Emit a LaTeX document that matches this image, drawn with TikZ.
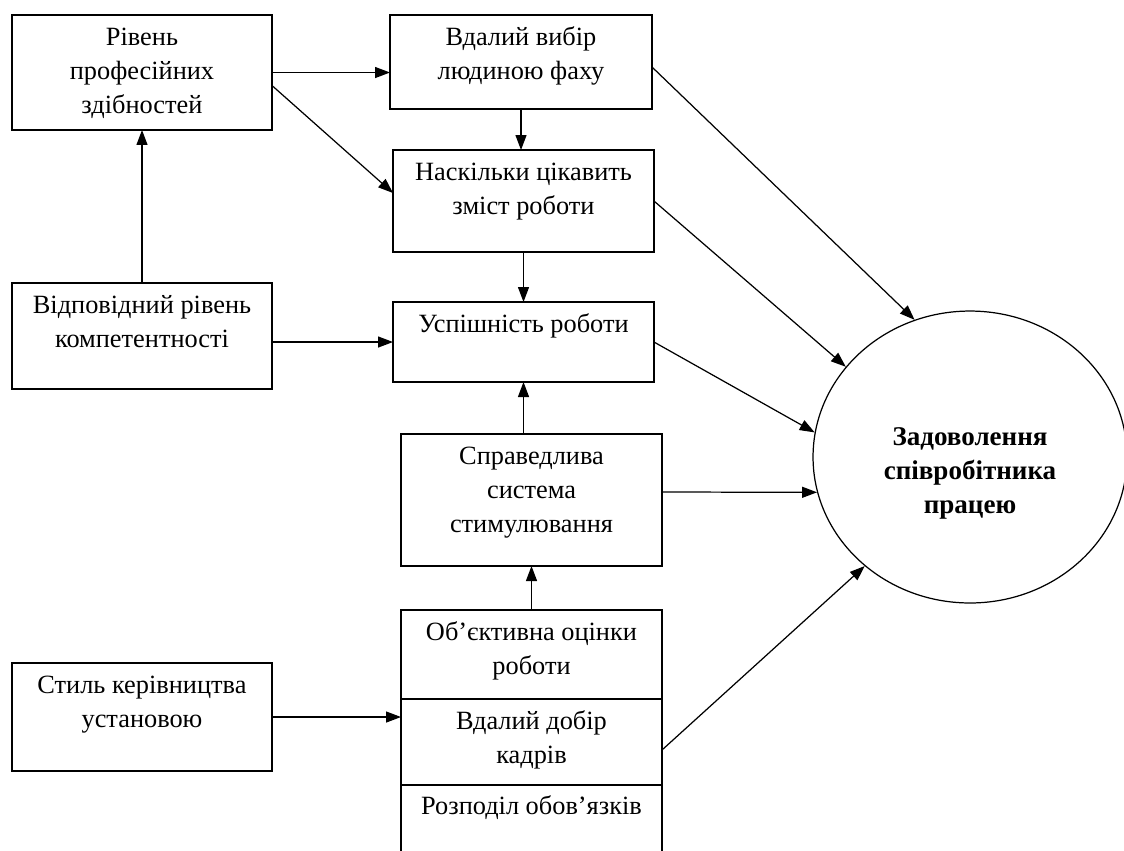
\documentclass[tikz,border=0pt]{standalone}
\usepackage{fontspec}
\setmainfont{Liberation Serif}
\usetikzlibrary{shapes.geometric, arrows.meta, positioning}
\newcommand{\kom}[3]{\parbox[c][#2][t]{#1}{\centering\rule{0pt}{0.6cm}#3}}

\begin{document}
\begin{tikzpicture}[x=0.02cm, y=-0.02cm, >={Triangle[length=0.3cm, width=0.22cm]}, line width=0.7pt,
        blok/.style={draw, inner sep=0pt, outer sep=0pt, line width=0.8pt, font=\fontsize{15}{19.4}\selectfont},
        meta/.style={draw, ellipse, inner sep=0pt, minimum width=6.28cm, minimum height=5.84cm,
                     align=center, font=\fontsize{15.4}{19.4}\selectfont\bfseries}]
                \useasboundingbox (0,0) rectangle (1124,850);
                \node[blok] (riven) at (142,72.5) {\kom{5.2cm}{2.3cm}{Рівень\\професійних\\здібностей}};
                \node[blok] (kompet) at (142,336) {\kom{5.2cm}{2.12cm}{Відповідний рівень\\компетентності}};
                \node[blok] (styl) at (142,717) {\kom{5.2cm}{2.16cm}{Стиль керівництва\\установою}};
                \node[blok] (vybir) at (521,62) {\kom{5.24cm}{1.88cm}{Вдалий вибір\\людиною фаху}};
                \node[blok] (zmist) at (523.5,201) {\kom{5.22cm}{2.04cm}{Наскільки цікавить\\зміст роботи}};
                \node[blok] (uspish) at (523.5,342) {\kom{5.22cm}{1.6cm}{Успішність роботи}};
                \node[blok] (sprav) at (531.5,500) {\kom{5.22cm}{2.64cm}{Справедлива\\система\\стимулювання}};
                \node[blok] (obj) at (531.5,654.5) {\kom{5.22cm}{1.78cm}{Об’єктивна оцінки\\роботи}};
                \node[blok] (dobir) [below=0pt of obj] {\kom{5.22cm}{1.72cm}{Вдалий добір\\кадрів}};
                \node[blok] (rozpod) [below=0pt of dobir] {\kom{5.22cm}{1.6cm}{Розподіл обов’язків}};
                \node[meta] (zad) at (970,457) {\rule{0pt}{1cm}Задоволення\\співробітника\\працею};

                \draw[->] (riven.east) -- (riven.east -| vybir.west);
                \draw[->] ([yshift=-0.26cm]riven.east) -- ([yshift=0.16cm]zmist.west);
                \draw[->] (vybir.south) -- (vybir.south |- zmist.north);
                \draw[->] (zmist.south) -- (zmist.south |- uspish.north);
                \draw[->] (kompet.north) -- (riven.south);
                \draw[->] (kompet.east |- uspish.west) -- (uspish.west);
                \draw[->] (uspish.south |- sprav.north) -- (uspish.south);
                \draw[->] (obj.north) -- (sprav.south);
                \draw[->] (styl.east) -- (styl.east -| dobir.west);

                \draw[->] ([yshift=-0.1cm]vybir.east) -- (zad.112);
                \draw[->] (zmist.east) -- (zad.144);
                \draw[->] (uspish.east) -- (zad.171);
                \draw[->] ([yshift=0.16cm]sprav.east) -- (zad.193);
                \draw[->] ([yshift=-0.16cm]dobir.east) -- (zad.226);
\end{tikzpicture}
\end{document}
